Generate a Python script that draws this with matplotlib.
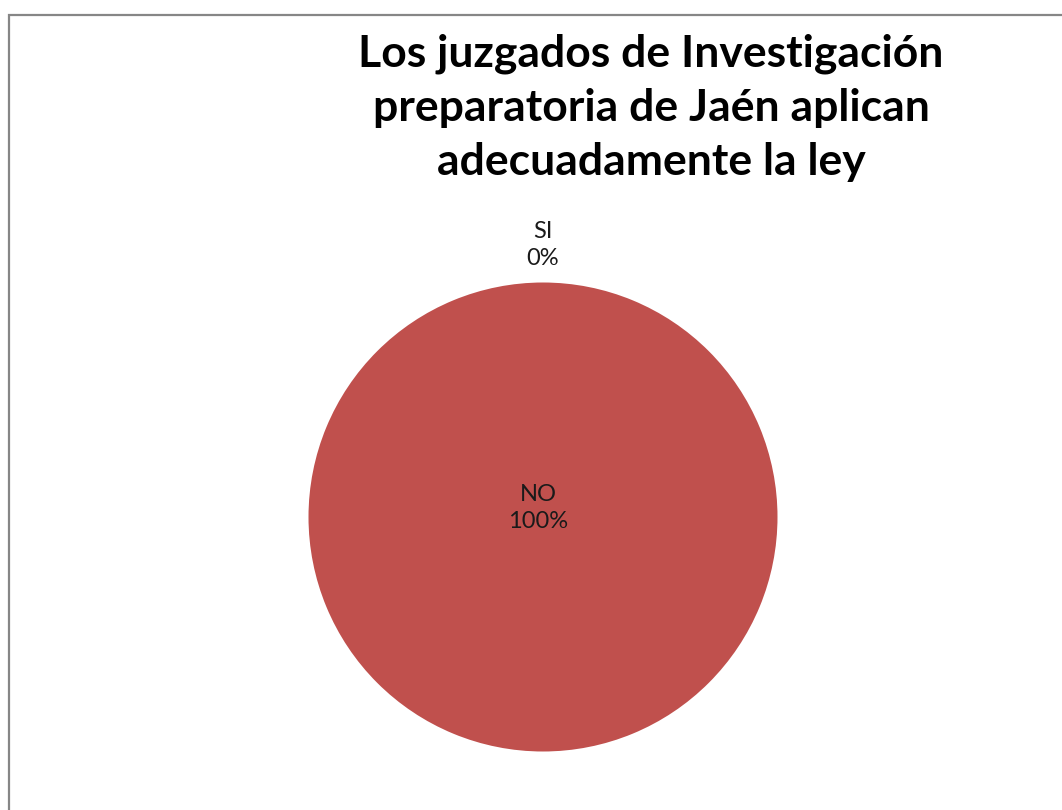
import numpy as np
import matplotlib
matplotlib.use('Agg')
import matplotlib.pyplot as plt
from matplotlib.patches import Rectangle

categories = ['SI', 'NO']
values = [0, 100]
title = 'Los juzgados de Investigación\npreparatoria de Jaén aplican\nadecuadamente la ley'

W, H = 1062, 810
plt.rcParams['font.family'] = ['Lato', 'DejaVu Sans']

fig = plt.figure(figsize=(W / 100, H / 100), dpi=100)
fig.patch.set_facecolor('white')

# outer chart-area border (runs off the right and bottom edges)
fig.add_artist(Rectangle((9 / W, -0.05), 1.1, 1.05 - 15 / H,
                         transform=fig.transFigure, fill=False,
                         edgecolor='#868686', linewidth=1.6))

cx, cy, r = 543, H - 517, 234.5
ax = fig.add_axes([(cx - r) / W, (cy - r) / H, 2 * r / W, 2 * r / H])
wedges, _ = ax.pie(values, colors=['#4F81BD', '#C0504D'], startangle=90,
                   counterclock=False, radius=1,
                   wedgeprops=dict(linewidth=0))
ax.set_xlim(-1, 1)
ax.set_ylim(-1, 1)
ax.set_aspect('auto')
ax.axis('off')

total = float(sum(values))
for w, cat, v in zip(wedges, categories, values):
    pct = '%d%%' % round(100 * v / total)
    if v == 0:
        ang = np.deg2rad((w.theta1 + w.theta2) / 2)
        ax.text(1.16 * np.cos(ang), 1.16 * np.sin(ang), '%s\n%s' % (cat, pct),
                ha='center', va='center', fontsize=17, linespacing=1.35,
                color='#1a1a1a')
    elif v == total:
        ax.text(-0.02, 0.04, '%s\n%s' % (cat, pct), ha='center', va='center',
                fontsize=17, linespacing=1.35, color='#1a1a1a')

fig.text(651 / W, 1 - 108 / H, title, ha='center', va='center',
         fontsize=32, fontweight='bold', linespacing=1.42)

fig.savefig('out.png', dpi=100)
